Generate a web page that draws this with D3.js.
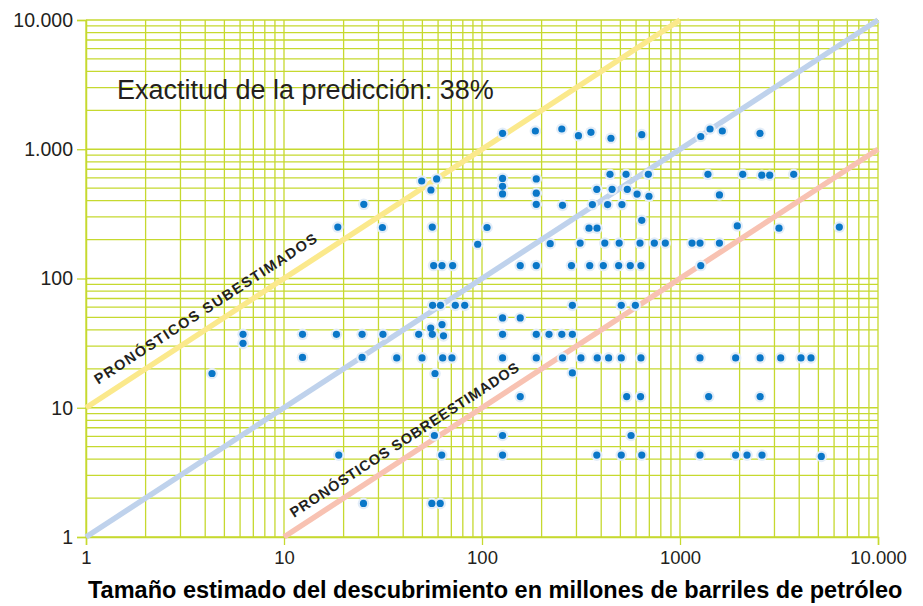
<!DOCTYPE html>
<html>
<head>
<meta charset="utf-8">
<script src="https://cdn.jsdelivr.net/npm/d3@7/dist/d3.min.js"></script>
<style>
  html, body { margin: 0; padding: 0; background: #ffffff; }
  svg { display: block; }
  text { font-family: "Liberation Sans", Arial, Helvetica, sans-serif; }
</style>
</head>
<body>
<svg id="chart" width="923" height="606"></svg>
<script>
// ---- DATA ----
// Estimated discovery size (x) and actual size (y), millions of barrels
const estimado = [
  127, 186, 253, 307, 355, 448, 641, 1273, 1418, 1636, 2535,
  443, 534, 692, 1384, 2074, 2588, 2838, 3752,
  127, 188, 49.6, 59,
  380, 454, 542, 127, 55.2, 188, 127, 607, 697, 1582,
  25.3, 188, 255, 361, 431, 509,
  641,
  18.7, 31.4, 56.1, 106, 347, 381, 1947, 3162, 6377,
  95.1, 221, 313, 417, 493, 628, 742, 843, 1150, 1262, 1582,
  57, 62.8, 71.1, 156, 188, 283, 350, 410, 490, 561, 635, 1273,
  56.3, 61.7, 73.3, 81.8, 286, 505, 595,
  127, 156, 55.1, 62.8,
  6.21, 12.4, 18.4, 24.8, 31.6, 47.9, 56.1, 63.9, 127, 188, 218, 253, 286,
  6.21,
  12.4, 24.8, 37.1, 49.8, 63.3, 70.5, 127, 188, 255, 316, 382, 436, 505, 635, 1262, 1910, 2540, 3226, 4083, 4588,
  4.33, 57.9, 286,
  156, 538, 632, 1396, 2540,
  57.5, 127, 566,
  18.9, 62.6, 127, 380, 505, 641, 1262, 1910, 2180, 2595, 5172,
  25.2, 55.8, 61.5
];
const real = [
  1328, 1384, 1435, 1273, 1352, 1216, 1297, 1255, 1435, 1384, 1328,
  640, 640, 640, 640, 640, 630, 630, 640,
  595, 589, 568, 589,
  490, 490, 490, 517, 484, 457, 451, 450, 433, 443,
  375, 375, 368, 373, 373, 373,
  282,
  250, 248, 250, 248, 245, 245, 255, 245, 250,
  184, 186, 188, 188, 188, 188, 188, 188, 188, 188, 188,
  126, 126, 126, 126, 126, 126, 126, 126, 126, 126, 126, 126,
  62, 62, 62, 62, 62, 62, 62,
  49.5, 49.5, 41.4, 44,
  37, 37, 37, 37, 37, 37, 37, 36, 37, 37, 37, 37, 37,
  31.5,
  24.5, 24.5, 24.3, 24.3, 24.3, 24.3, 24.3, 24.3, 24.3, 24.3, 24.3, 24.3, 24.3, 24.3, 24.3, 24.3, 24.3, 24.3, 24.3, 24.3,
  18.4, 18.4, 18.6,
  12.2, 12.2, 12.2, 12.2, 12.2,
  6.1, 6.1, 6.1,
  4.3, 4.3, 4.3, 4.3, 4.3, 4.3, 4.3, 4.3, 4.3, 4.3, 4.2,
  1.82, 1.82, 1.82
];
const xTickValues = [1, 10, 100, 1000, 10000];
const xTickLabels = ["1", "10", "100", "1000", "10.000"];
const yTickValues = [1, 10, 100, 1000, 10000];
const yTickLabels = ["1", "10", "100", "1.000", "10.000"];
// reference lines: actual = factor * estimated
const refFactors = [10, 1, 0.1];
const refNames = ["sub", "exacto", "sobre"];
const title = "Exactitud de la predicción: 38%";
const xAxisTitle = "Tamaño estimado del descubrimiento en millones de barriles de petróleo";
const labelSub = "PRONÓSTICOS SUBESTIMADOS";
const labelSobre = "PRONÓSTICOS SOBREESTIMADOS";

// ---- LAYOUT ----
const W = 923, H = 606;
const margin = { left: 86, right: 45, top: 20, bottom: 69 };
const svg = d3.select("#chart");
const x = d3.scaleLog().domain([1, 10000]).range([margin.left, W - margin.right]);
const y = d3.scaleLog().domain([1, 10000]).range([H - margin.bottom, margin.top]);

const gridColor = "#c6d92f";
const refColors = { sub: "#fbe98c", exacto: "#bfd2ec", sobre: "#f8c2b2" };

// ---- GRID ----
const grid = svg.append("g");
grid.selectAll("line.v").data(x.ticks()).join("line")
  .attr("x1", d => x(d)).attr("x2", d => x(d))
  .attr("y1", y(1)).attr("y2", y(10000))
  .attr("stroke", gridColor).attr("stroke-width", 1.3);
grid.selectAll("line.h").data(y.ticks()).join("line")
  .attr("y1", d => y(d)).attr("y2", d => y(d))
  .attr("x1", x(1)).attr("x2", x(10000))
  .attr("stroke", gridColor).attr("stroke-width", 1.3);

// ---- AXES ----
const xAxis = d3.axisBottom(x).tickValues(xTickValues)
  .tickFormat((d, i) => xTickLabels[i]).tickSize(8).tickPadding(6);
const gx = svg.append("g").attr("transform", `translate(0,${y(1)})`).call(xAxis);
gx.select(".domain").attr("stroke", gridColor).attr("stroke-width", 1.5);
gx.selectAll(".tick line").attr("stroke", gridColor).attr("stroke-width", 1.3);
gx.selectAll(".tick text").attr("font-size", 18.5).attr("fill", "#231f20")
  .attr("font-family", "Liberation Sans, Arial, sans-serif");

const yAxis = d3.axisLeft(y).tickValues(yTickValues)
  .tickFormat((d, i) => yTickLabels[i]).tickSize(9).tickPadding(4);
const gy = svg.append("g").attr("transform", `translate(${x(1)},0)`).call(yAxis);
gy.select(".domain").attr("stroke", gridColor).attr("stroke-width", 1.5);
gy.selectAll(".tick line").attr("stroke", gridColor).attr("stroke-width", 1.3);
gy.selectAll(".tick text").attr("font-size", 19.5).attr("fill", "#231f20")
  .attr("font-family", "Liberation Sans, Arial, sans-serif");

// ---- REFERENCE LINES ----
const refLine = svg.append("g");
refFactors.forEach((f, i) => {
  const x0 = Math.max(1, 1 / f), x1 = Math.min(10000, 10000 / f);
  refLine.append("line")
    .attr("x1", x(x0)).attr("y1", y(x0 * f))
    .attr("x2", x(x1)).attr("y2", y(x1 * f))
    .attr("stroke", refColors[refNames[i]]).attr("stroke-width", 5.5);
});

// ---- LABELS ALONG LINES ----
const angle = Math.atan2(y(10) - y(1), x(10) - x(1)) * 180 / Math.PI;
function lineLabel(text, xd, factor, offset, spacing, size) {
  svg.append("text")
    .attr("transform", `translate(${x(xd)},${y(xd * factor)}) rotate(${angle})`)
    .attr("x", 0).attr("y", -offset)
    .attr("font-size", size).attr("font-weight", "bold")
    .attr("letter-spacing", spacing)
    .attr("fill", "#231f20")
    .text(text);
}
lineLabel(labelSub, 1.25, 10, 12.5, 1.5, 14.5);
lineLabel(labelSobre, 12, 0.1, 10.5, 0.85, 14.5);

// ---- POINTS ----
const pts = estimado.map((e, i) => ({ e, r: real[i] }));
const gp = svg.append("g");
gp.selectAll("circle.halo").data(pts).join("circle")
  .attr("cx", d => x(d.e)).attr("cy", d => y(d.r)).attr("r", 5.8)
  .attr("fill", "#e3edf8");
gp.selectAll("circle.dot").data(pts).join("circle")
  .attr("cx", d => x(d.e)).attr("cy", d => y(d.r)).attr("r", 3.6)
  .attr("fill", "#0a77c8");

// ---- TITLES ----
svg.append("text").attr("x", 117).attr("y", 99)
  .attr("font-size", 27).attr("fill", "#231f20").text(title);
svg.append("text").attr("x", 88).attr("y", 598)
  .attr("font-size", 23.5).attr("font-weight", "bold").attr("fill", "#000")
  .text(xAxisTitle);
</script>
</body>
</html>
